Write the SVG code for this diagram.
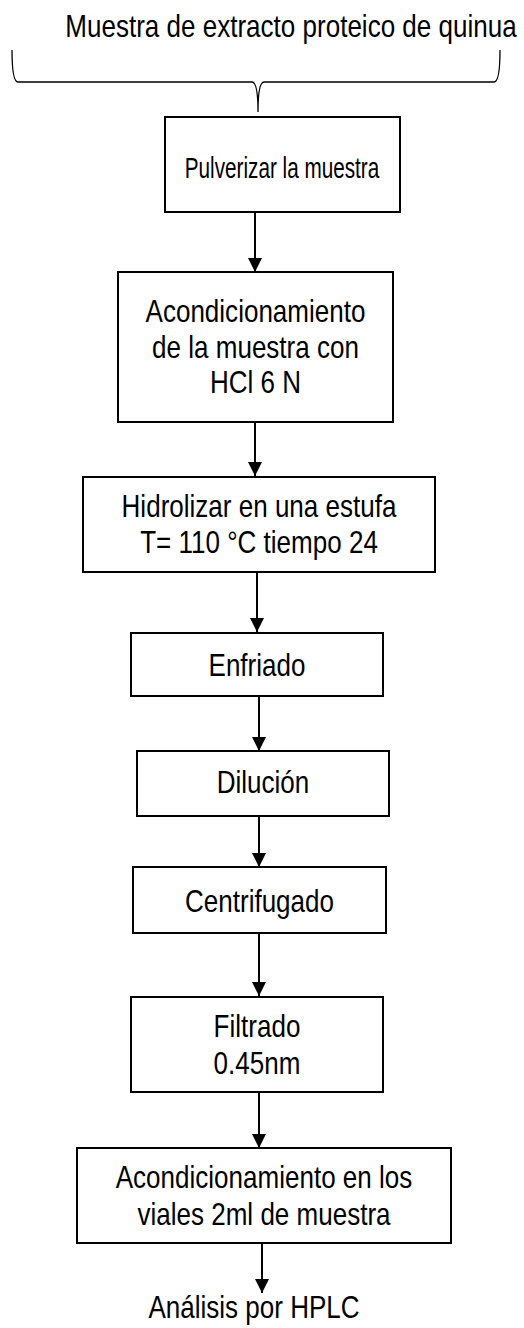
<svg xmlns="http://www.w3.org/2000/svg" width="524" height="1328" viewBox="0 0 524 1328">
<style>
.box{fill:#fff;stroke:#000;stroke-width:2}
.t{font-family:"Liberation Sans",Arial,sans-serif;font-size:31px;fill:#000;text-anchor:middle}
.s{font-size:29px}
.c{stroke:#000;stroke-width:2;fill:none}
.brace{stroke:#000;stroke-width:1.3;fill:none}
</style>
<defs>
<marker id="ah" markerWidth="14" markerHeight="14" refX="14" refY="7" orient="auto" markerUnits="userSpaceOnUse">
<path d="M0,0 L14,7 L0,14 Z" fill="#000"/>
</marker>
</defs>
<g id="title">
<text class="t" transform="translate(291 37) scale(0.84 1)">Muestra de extracto proteico de quinua</text>
<path class="brace" d="M12,50 Q12,82 18,82 L252,82 Q258,82 258,112 Q258,82 264,82 L494,82 Q500,82 500,50"/>
</g>
<g id="n1"><rect class="box" x="165" y="117" width="235" height="95"/><text class="t s" transform="translate(282 178) scale(0.715 1)">Pulverizar la muestra</text></g>
<g id="n2"><rect class="box" x="118" y="272" width="275" height="150"/><text class="t" transform="translate(255.5 322) scale(0.84 1)">Acondicionamiento</text><text class="t" transform="translate(255.5 358) scale(0.84 1)">de la muestra con</text><text class="t" transform="translate(255.5 393) scale(0.84 1)">HCl 6 N</text></g>
<g id="n3"><rect class="box" x="83" y="477" width="352" height="95"/><text class="t" transform="translate(259 517) scale(0.84 1)">Hidrolizar en una estufa</text><text class="t" transform="translate(259 553) scale(0.84 1)">T= 110 °C tiempo 24</text></g>
<g id="n4"><rect class="box" x="131" y="633" width="252" height="63"/><text class="t" transform="translate(257 676) scale(0.84 1)">Enfriado</text></g>
<g id="n5"><rect class="box" x="137" y="751" width="252" height="65"/><text class="t" transform="translate(263 793) scale(0.84 1)">Dilución</text></g>
<g id="n6"><rect class="box" x="133" y="867" width="253" height="66"/><text class="t" transform="translate(259.5 912) scale(0.84 1)">Centrifugado</text></g>
<g id="n7"><rect class="box" x="131" y="997" width="252" height="95"/><text class="t" transform="translate(257 1037) scale(0.84 1)">Filtrado</text><text class="t" transform="translate(257 1074) scale(0.84 1)">0.45nm</text></g>
<g id="n8"><rect class="box" x="77" y="1148" width="374" height="95"/><text class="t" transform="translate(264 1188) scale(0.84 1)">Acondicionamiento en los</text><text class="t" transform="translate(264 1225) scale(0.84 1)">viales 2ml de muestra</text></g>
<g id="n9"><text class="t" transform="translate(254 1318) scale(0.84 1)">Análisis por HPLC</text></g>
<g id="connectors">
<line class="c" x1="255" y1="212" x2="255" y2="272" marker-end="url(#ah)"/>
<line class="c" x1="255" y1="422" x2="255" y2="476" marker-end="url(#ah)"/>
<line class="c" x1="257" y1="572" x2="257" y2="632" marker-end="url(#ah)"/>
<line class="c" x1="259" y1="696" x2="259" y2="751" marker-end="url(#ah)"/>
<line class="c" x1="259" y1="816" x2="259" y2="867" marker-end="url(#ah)"/>
<line class="c" x1="259" y1="933" x2="259" y2="996" marker-end="url(#ah)"/>
<line class="c" x1="259" y1="1092" x2="259" y2="1148" marker-end="url(#ah)"/>
<line class="c" x1="262" y1="1243" x2="262" y2="1293" marker-end="url(#ah)"/>
</g>
</svg>
